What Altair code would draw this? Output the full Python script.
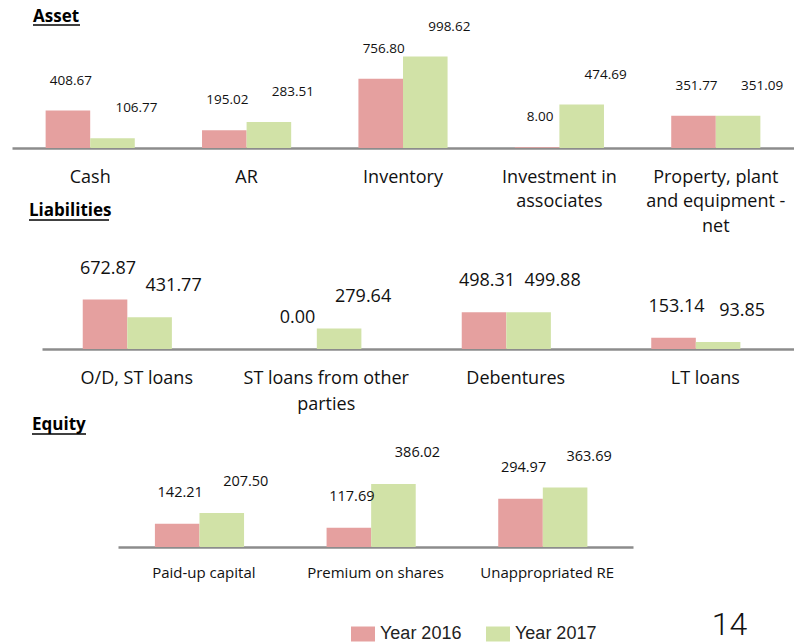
import altair as alt
import pandas as pd

years = ["Year 2016", "Year 2017"]

asset_cats = ["Cash", "AR", "Inventory", "Investment in\nassociates",
              "Property, plant\nand equipment -\nnet"]
asset_2016 = [408.67, 195.02, 756.80, 8.00, 351.77]
asset_2017 = [106.77, 283.51, 998.62, 474.69, 351.09]

liab_cats = ["O/D, ST loans", "ST loans from other\nparties", "Debentures", "LT loans"]
liab_2016 = [672.87, 0.00, 498.31, 153.14]
liab_2017 = [431.77, 279.64, 499.88, 93.85]

eq_cats = ["Paid-up capital", "Premium on shares", "Unappropriated RE"]
eq_2016 = [142.21, 117.69, 294.97]
eq_2017 = [207.50, 386.02, 363.69]

page_number = "14"

RED = "#E5A09F"
GREEN = "#D1E2A7"
AXIS_GREY = "#8C8C8C"
FONT = "Open Sans"


def to_long(cats, v16, v17):
    rows = []
    for c, a, b in zip(cats, v16, v17):
        rows.append({"category": c, "year": years[0], "value": a})
        rows.append({"category": c, "year": years[1], "value": b})
    return pd.DataFrame(rows)


legend = alt.Legend(
    title=None, orient="none", legendX=343, legendY=597, direction="horizontal",
    symbolType="M-1,-0.625H1V0.625H-1Z", symbolSize=576, symbolStrokeWidth=0,
    symbolOpacity=1, labelFont="Liberation Sans", labelFontSize=18, labelColor="#222222",
    labelOffset=5, columnPadding=24, padding=0,
)


def panel(title, cats, v16, v17, xrange, height, ymax, cat_size, val_size,
          lab_pad, line_h, val_dy, title_x, title_y, ul_x2, ul_y, extra=None):
    df = to_long(cats, v16, v17)
    x = alt.X(
        "category:N", sort=cats, title=None,
        scale=alt.Scale(range=xrange, paddingInner=0.43, paddingOuter=0.215),
        axis=alt.Axis(
            labelAngle=0, ticks=False, grid=False, domainColor=AXIS_GREY, domainWidth=2.5,
            labelFont=FONT, labelFontSize=cat_size, labelColor="#111111",
            labelPadding=lab_pad, labelLineHeight=line_h, labelLimit=400,
            labelOverlap=False, labelExpr="split(datum.label, '\\n')",
        ),
    )
    xo = alt.XOffset("year:N", sort=years, scale=alt.Scale(paddingInner=0, paddingOuter=0))
    y = alt.Y("value:Q", scale=alt.Scale(domain=[0, ymax], nice=False, zero=True), axis=None)
    base = alt.Chart(df).encode(x=x, xOffset=xo, y=y)
    bars = base.mark_bar().encode(
        color=alt.Color("year:N", scale=alt.Scale(domain=years, range=[RED, GREEN]), legend=legend)
    )
    t16 = base.transform_filter(alt.datum.year == years[0]).mark_text(
        dy=val_dy, dx=3, font=FONT, fontSize=val_size, color="#111111", baseline="middle"
    ).encode(text=alt.Text("value:Q", format=".2f"))
    t17 = base.transform_filter(alt.datum.year == years[1]).mark_text(
        dy=val_dy, dx=24, font=FONT, fontSize=val_size, color="#111111", baseline="middle"
    ).encode(text=alt.Text("value:Q", format=".2f"))
    tdf = pd.DataFrame({"t": [title]})
    ttl = alt.Chart(tdf).mark_text(
        align="left", baseline="middle", font=FONT, fontWeight="bold", fontSize=17, color="black"
    ).encode(x=alt.value(title_x), y=alt.value(title_y), text="t:N")
    ul = alt.Chart(tdf).mark_rule(color="black", strokeWidth=1.5).encode(
        x=alt.value(title_x), x2=alt.value(ul_x2), y=alt.value(ul_y)
    )
    layers = [bars, t16, t17, ttl, ul]
    if extra is not None:
        layers.append(extra)
    return alt.layer(*layers).properties(width=786, height=height)


p1 = panel("Asset", asset_cats, asset_2016, asset_2017, [4, 786], 123, 1344,
           18, 13.5, 20, 24.5, -30, 25, -8, 72, 0)
p2 = panel("Liabilities", liab_cats, liab_2016, liab_2017, [34, 792], 124, 1687,
           18, 18, 20, 26, -31, 21, -14, 101, -5)

num = alt.Chart(pd.DataFrame({"t": [page_number]})).mark_text(
    font="Roboto", fontWeight=300, fontSize=32, align="center", baseline="middle",
    color="#111111"
).encode(x=alt.value(721.5), y=alt.value(199), text="t:N")

p3 = panel("Equity", eq_cats, eq_2016, eq_2017, [110, 625], 121, 740,
           15, 14.5, 18, 20, -31, 24, -1, 78, 8, extra=num)

chart = alt.vconcat(p1, p2, p3, spacing=77, bounds="flush").properties(
    padding=0, background="white"
).configure_view(stroke=None)

chart.save("out.html", embed_options={"renderer": "svg", "actions": False})
